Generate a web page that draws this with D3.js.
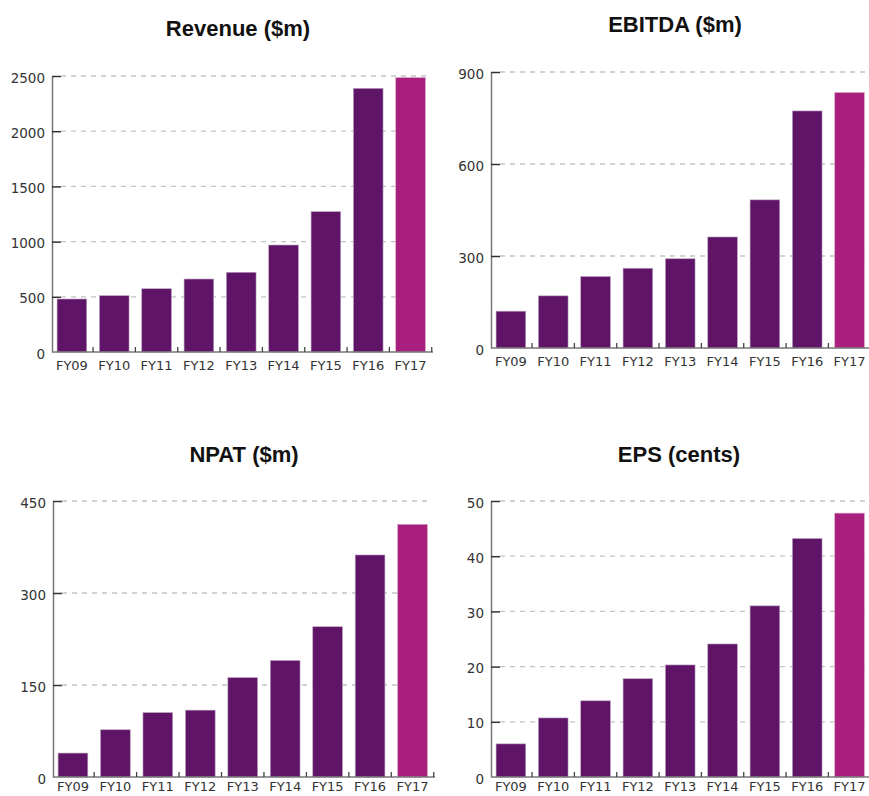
<!DOCTYPE html>
<html>
<head>
<meta charset="utf-8">
<script src="https://cdn.jsdelivr.net/npm/d3@7"></script>
<style>
  html, body { margin: 0; padding: 0; background: #fff; }
  svg { display: block; }
</style>
</head>
<body>
<div id="chart"></div>
<script>
// Năm tài chính
const years = ["FY09", "FY10", "FY11", "FY12", "FY13", "FY14", "FY15", "FY16", "FY17"];

// Giá trị từng chỉ tiêu
const revenue = [480, 510, 573, 661, 722, 969, 1271, 2388, 2485];
const ebitda = [120, 170, 233, 260, 291, 362, 483, 773, 833];
const npat = [39, 77, 105, 109, 162, 190, 245, 362, 412];
const eps = [6.0, 10.7, 13.8, 17.8, 20.3, 24.1, 31.0, 43.2, 47.8];

// Nhãn trục y
const revenueTicks = [0, 500, 1000, 1500, 2000, 2500];
const ebitdaTicks = [0, 300, 600, 900];
const npatTicks = [0, 150, 300, 450];
const epsTicks = [0, 10, 20, 30, 40, 50];

const titles = ["Revenue ($m)", "EBITDA ($m)", "NPAT ($m)", "EPS (cents)"];

const width = 869, height = 796;
const barColor = "#5f1468";
const lastColor = "#a81f7d";

const svg = d3.select("#chart").append("svg")
    .attr("width", width)
    .attr("height", height);

// Vị trí từng ô biểu đồ
const panels = [
    { title: titles[0], values: revenue, ticks: revenueTicks, left: 52, right: 433, top: 76, bottom: 352, tx: 238, ty: 28, gridEnd: 430, pad: 9 },
    { title: titles[1], values: ebitda, ticks: ebitdaTicks, left: 491, right: 872, top: 72, bottom: 348, tx: 675, ty: 24, gridEnd: 869, pad: 9 },
    { title: titles[2], values: npat, ticks: npatTicks, left: 53, right: 435, top: 501, bottom: 777, tx: 244, ty: 454, gridEnd: 428, pad: 5 },
    { title: titles[3], values: eps, ticks: epsTicks, left: 491, right: 872, top: 501, bottom: 777, tx: 679, ty: 454, gridEnd: 869, pad: 5 }
];

panels.forEach(p => {
    const g = svg.append("g");

    const x = d3.scaleBand()
        .domain(years)
        .range([p.left, p.right])
        .paddingInner(0.3)
        .paddingOuter(0.15)
        .align(0.4);

    const y = d3.scaleLinear()
        .domain([0, d3.max(p.ticks)])
        .range([p.bottom, p.top]);

    // Lưới ngang nét đứt
    g.append("g")
        .selectAll("line")
        .data(p.ticks.filter(t => t > 0))
        .join("line")
        .attr("x1", p.left + 9)
        .attr("x2", p.gridEnd)
        .attr("y1", d => y(d))
        .attr("y2", d => y(d))
        .attr("stroke", "#c4c4c4")
        .attr("stroke-width", 1.3)
        .attr("stroke-dasharray", "5,5");

    // Các cột
    g.append("g")
        .selectAll("rect")
        .data(years.map((yr, i) => ({ yr, v: p.values[i], last: i === years.length - 1 })))
        .join("rect")
        .attr("x", d => x(d.yr))
        .attr("y", d => y(d.v))
        .attr("width", x.bandwidth())
        .attr("height", d => y(0) - y(d.v))
        .attr("fill", d => d.last ? lastColor : barColor)
        .attr("stroke", d => d.last ? "#d9a3c8" : "#b9a0bd")
        .attr("stroke-width", 0.6);

    // Trục y
    const yAxis = g.append("g")
        .attr("transform", `translate(${p.left},0)`)
        .call(d3.axisLeft(y)
            .tickValues(p.ticks)
            .tickFormat(d3.format("d"))
            .tickSize(-9)
            .tickSizeOuter(0)
            .tickPadding(7));
    yAxis.select(".domain").attr("stroke", "#777").attr("stroke-width", 1.5);
    yAxis.selectAll(".tick line").attr("stroke", "#333").attr("stroke-width", 1.5)
        .filter(d => d === 0).remove();
    yAxis.selectAll("text")
        .attr("dy", "0.45em")
        .style("font-family", "DejaVu Sans, sans-serif")
        .style("font-size", "13.5px")
        .attr("fill", "#333");

    // Trục x
    const xAxis = g.append("g")
        .attr("transform", `translate(0,${p.bottom})`)
        .call(d3.axisBottom(x).tickSize(0).tickPadding(p.pad));
    xAxis.select(".domain").remove();
    xAxis.selectAll("text")
        .style("font-family", "DejaVu Sans, sans-serif")
        .style("font-size", "13px")
        .attr("fill", "#333");

    g.append("line")
        .attr("x1", p.left)
        .attr("x2", p.right)
        .attr("y1", p.bottom)
        .attr("y2", p.bottom)
        .attr("stroke", "#777")
        .attr("stroke-width", 1.5);

    // Vạch chia giữa các cột
    const gap = x.step() - x.bandwidth();
    g.append("g")
        .selectAll("line")
        .data(years)
        .join("line")
        .attr("x1", d => x(d) + x.bandwidth() + gap / 2)
        .attr("x2", d => x(d) + x.bandwidth() + gap / 2)
        .attr("y1", p.bottom)
        .attr("y2", p.bottom - 5)
        .attr("stroke", "#444")
        .attr("stroke-width", 1.3);

    // Tiêu đề
    g.append("text")
        .attr("x", p.tx)
        .attr("y", p.ty)
        .attr("text-anchor", "middle")
        .attr("dy", "0.35em")
        .style("font-family", "Liberation Sans, Arial, sans-serif")
        .style("font-weight", "bold")
        .style("font-size", "22px")
        .attr("fill", "#111")
        .text(p.title);
});
</script>
</body>
</html>
